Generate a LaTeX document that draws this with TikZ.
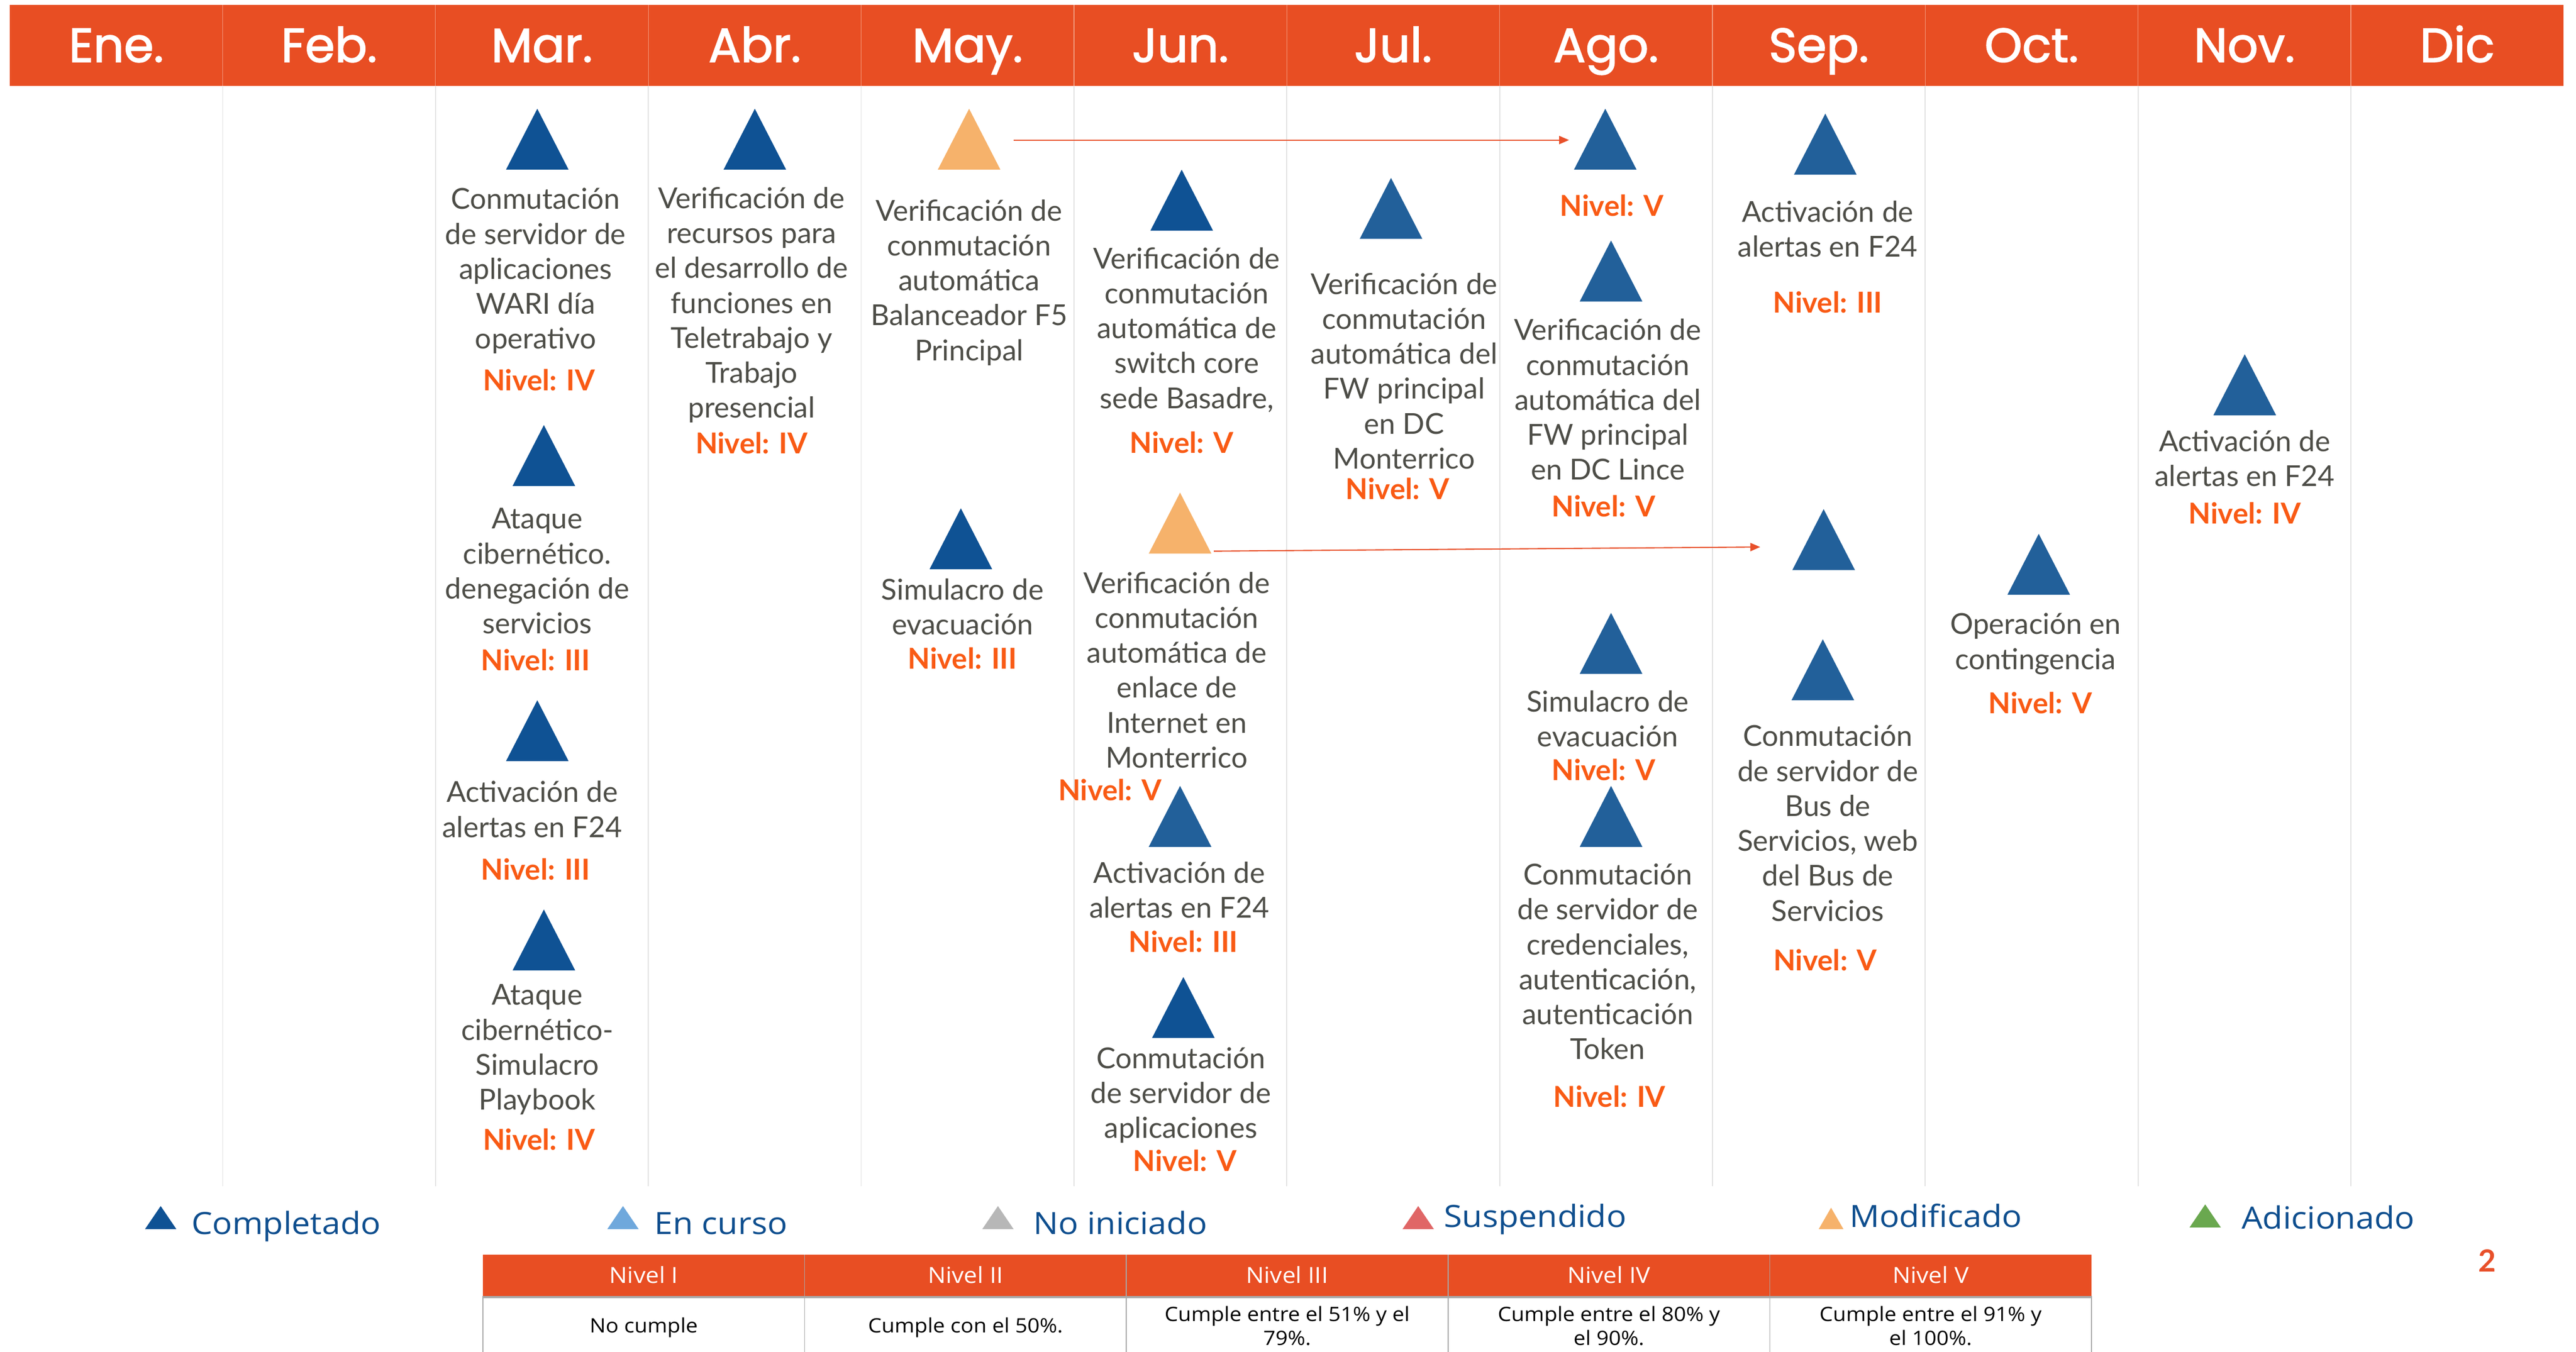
\documentclass[tikz,border=0pt]{standalone}
\usepackage{fontspec}
\usetikzlibrary{arrows.meta}
\newfontfamily\bodyfont{Lato}
\newfontfamily\monthfont{Poppins}[FakeBold=2]
\newfontfamily\legfont{Open Sans}[FakeStretch=1.08]
\newfontfamily\pgnumfont{Lato}
\definecolor{hdr}{HTML}{E84E23}
\definecolor{hdrline}{HTML}{F29A7E}
\definecolor{gridc}{HTML}{E2E2E2}
\definecolor{txtc}{HTML}{4D4D47}
\definecolor{nivc}{HTML}{F95A14}
\definecolor{bdark}{HTML}{0F5294}
\definecolor{bmid}{HTML}{22609A}
\definecolor{bleg}{HTML}{0E4E8E}
\definecolor{orng}{HTML}{F6B26B}
\definecolor{lblue}{HTML}{6FA8DC}
\definecolor{lgray}{HTML}{B7B7B7}
\definecolor{lred}{HTML}{E06666}
\definecolor{lgreen}{HTML}{6AA84F}
\definecolor{arrc}{HTML}{E8502A}
\definecolor{tabline}{HTML}{A8A8A8}
\newcommand\trig[4]{\coordinate (#1) at (#2,#3);\fill[#4] (#1) -- ++(-19,37) -- ++(38,0) -- cycle;}
\newcommand\legtri[6]{\coordinate (#1) at (#2,#3);\fill[#5] (#1) -- ++(-#6,#4) -- ++(2*#6,0) -- cycle;}
\begin{document}
\begin{tikzpicture}[x=1pt,y=-1pt,
  month/.style={font=\monthfont\fontsize{29}{32}\selectfont, text=white, inner sep=0, anchor=base},
  txt/.style={font=\bodyfont\fontsize{17.5}{21.2}\selectfont, text=txtc, align=center, inner sep=0, anchor=base},
  niv/.style={font=\bodyfont\bfseries\fontsize{17.5}{21.2}\selectfont, text=nivc, inner sep=0, anchor=base},
  leg/.style={font=\legfont\fontsize{18.6}{20}\selectfont, text=bleg, inner sep=0, anchor=base west},
  tabh/.style={font=\legfont\fontsize{13.5}{15}\selectfont, text=white, inner sep=0, anchor=base},
  tabb/.style={font=\legfont\fontsize{12}{14.5}\selectfont, text=black, align=center, inner sep=0, anchor=base},
  gridl/.style={draw=gridc, line width=0.6pt},
  conn/.style={draw=arrc, line width=0.7pt, -{Triangle[length=6pt,width=5pt]}}]
\useasboundingbox (0,0) rectangle (1563,820.3);
\fill[white] (0,0) rectangle (1563,820.3);
% header
\fill[hdr] (6,3) rectangle (1555.5,52);
\foreach \k in {1,...,11} {
  \draw[hdrline, line width=0.4pt] ({6+129.125*\k},3) -- ({6+129.125*\k},52);
  \draw[gridl] ({6+129.125*\k},52) -- ({6+129.125*\k},720);
}
% triangles
\trig{tMar1}{326}{66}{bdark}
\trig{tMar2}{330}{258}{bdark}
\trig{tMar3}{326}{425}{bdark}
\trig{tMar4}{330}{552}{bdark}
\trig{tAbr1}{458}{66}{bdark}
\trig{tMay1}{588}{66}{orng}
\trig{tMay2}{583}{308.5}{bdark}
\trig{tJun1}{717}{103}{bdark}
\trig{tJun2}{716}{299}{orng}
\trig{tJun3}{716}{477}{bmid}
\trig{tJun4}{718}{593}{bdark}
\trig{tJul1}{844}{108}{bmid}
\trig{tAgo1}{974}{66}{bmid}
\trig{tAgo2}{977.5}{146}{bmid}
\trig{tAgo3}{977.5}{372}{bmid}
\trig{tAgo4}{977.5}{477}{bmid}
\trig{tSep1}{1107.5}{69}{bmid}
\trig{tSep2}{1106.5}{309}{bmid}
\trig{tSep3}{1106}{388}{bmid}
\trig{tOct1}{1237}{324}{bmid}
\trig{tNov1}{1362}{215}{bmid}
% connectors
\coordinate (a1s) at (615,85);
\coordinate (a1e) at (952,85);
\draw[conn] (a1s) -- (a1e);
\coordinate (a2s) at (736.5,334.5);
\coordinate (a2e) at (1068,332);
\draw[conn] (a2s) -- (a2e);
% texts (anchor = baseline of last line)
\node[txt] (xMar1) at (325,211.8) {Conmutación\\de servidor de\\aplicaciones\\WARI día\\operativo};
\node[niv] (nMar1) at (327,237) {Nivel: IV};
\node[txt] (xMar2) at (326,384.6) {Ataque\\cibernético.\\denegación de\\servicios};
\node[niv] (nMar2) at (325,407) {Nivel: III};
\node[txt] (xMar3) at (323,508.2) {Activación de\\alertas en F24};
\node[niv] (nMar3) at (325,534) {Nivel: III};
\node[txt] (xMar4) at (326,673.6) {Ataque\\cibernético-\\Simulacro\\Playbook};
\node[niv] (nMar4) at (327,698) {Nivel: IV};
\node[txt] (xAbr1) at (456,253.7) {Verificación de\\recursos para\\el desarrollo de\\funciones en\\Teletrabajo y\\Trabajo\\presencial};
\node[niv] (nAbr1) at (456,275.5) {Nivel: IV};
\node[txt] (xMay1) at (588,218.8) {Verificación de\\conmutación\\automática\\Balanceador F5\\Principal};
\node[txt] (xMay2) at (584,385.2) {Simulacro de\\evacuación};
\node[niv] (nMay2) at (584,406) {Nivel: III};
\node[txt] (xJun1) at (720,247.8) {Verificación de\\conmutación\\automática de\\switch core\\sede Basadre,};
\node[niv] (nJun1) at (717,275) {Nivel: V};
\node[txt] (xJun2) at (714,466) {Verificación de\\conmutación\\automática de\\enlace de\\Internet en\\Monterrico};
\node[niv] (nJun2) at (673.5,486) {Nivel: V};
\node[txt] (xJun3) at (715.5,557.2) {Activación de\\alertas en F24};
\node[niv] (nJun3) at (718,578) {Nivel: III};
\node[txt] (xJun4) at (716.5,690.9) {Conmutación\\de servidor de\\aplicaciones};
\node[niv] (nJun4) at (719,711) {Nivel: V};
\node[txt] (xJul1) at (852,284.5) {Verificación de\\conmutación\\automática del\\FW principal\\en DC\\Monterrico};
\node[niv] (nJul1) at (848,303) {Nivel: V};
\node[niv] (nAgo1) at (978,131) {Nivel: V};
\node[txt] (xAgo2) at (975.5,291.3) {Verificación de\\conmutación\\automática del\\FW principal\\en DC Lince};
\node[niv] (nAgo2) at (973,313.5) {Nivel: V};
\node[txt] (xAgo3) at (975.5,453.2) {Simulacro de\\evacuación};
\node[niv] (nAgo3) at (973,473.5) {Nivel: V};
\node[txt] (xAgo4) at (975.5,643) {Conmutación\\de servidor de\\credenciales,\\autenticación,\\autenticación\\Token};
\node[niv] (nAgo4) at (976.5,672) {Nivel: IV};
\node[txt] (xSep1) at (1109,155.9) {Activación de\\alertas en F24};
\node[niv] (nSep1) at (1109,190) {Nivel: III};
\node[txt] (xSep3) at (1109,559) {Conmutación\\de servidor de\\Bus de\\Servicios, web\\del Bus de\\Servicios};
\node[niv] (nSep3) at (1107.5,589) {Nivel: V};
\node[txt] (xOct1) at (1235,406.2) {Operación en\\contingencia};
\node[niv] (nOct1) at (1238,433) {Nivel: V};
\node[txt] (xNov1) at (1362,295.2) {Activación de\\alertas en F24};
\node[niv] (nNov1) at (1362,318) {Nivel: IV};
% legend
\legtri{lg1}{97.5}{732}{14}{bdark}{9.5}
\node[leg] (lt1) at (116,749) {Completado};
\legtri{lg2}{378}{732}{14}{lblue}{9.5}
\node[leg] (lt2) at (397,749) {En curso};
\legtri{lg3}{605.5}{732}{14}{lgray}{9.5}
\node[leg] (lt3) at (627,749) {No iniciado};
\legtri{lg4}{860.5}{732}{14}{lred}{9.5}
\node[leg] (lt4) at (876,745) {Suspendido};
\legtri{lg5}{1111}{733}{13}{orng}{7.5}
\node[leg] (lt5) at (1122,745) {Modificado};
\legtri{lg6}{1338}{731}{14}{lgreen}{9.5}
\node[leg] (lt6) at (1360,746) {Adicionado};
\node[font=\pgnumfont\bfseries\fontsize{18.5}{20}\selectfont, text=arrc, inner sep=0] (pg) at (1509,765) {2};
% table
\fill[hdr] (293,761.5) rectangle (1269,786.5);
\foreach \xx in {488.2,683.4,878.6,1073.8}
  \draw[tabline, line width=0.5pt] (\xx,761.5) -- (\xx,822);
\draw[tabline, line width=0.5pt] (293,786.5) -- (293,822);
\draw[tabline, line width=0.5pt] (1269,786.5) -- (1269,822);
\draw[tabline, line width=1.4pt] (293,787.2) -- (1269,787.2);
\foreach \t [count=\i] in {Nivel I,Nivel II,Nivel III,Nivel IV,Nivel V}
  \node[tabh] (h\i) at ({293+195.2*(\i-0.5)},778.8) {\t};
\node[tabb] (b1) at (390.6,809) {No cumple};
\node[tabb] (b2) at (585.8,809) {Cumple con el 50\%.};
\node[tabb] (b3) at (781,816.3) {Cumple entre el 51\% y el\\79\%.};
\node[tabb] (b4) at (976.2,816.3) {Cumple entre el 80\% y\\el 90\%.};
\node[tabb] (b5) at (1171.4,816.3) {Cumple entre el 91\% y\\el 100\%.};
% month labels (drawn last)
\foreach \m [count=\i] in {Ene.,Feb.,Mar.,Abr.,May.,Jun.,Jul.,Ago.,Sep.,Oct.,Nov.,Dic}
  \node[month] (m\i) at ({6+129.125*(\i-0.5)},37.6) {\m};
\end{tikzpicture}
\end{document}
